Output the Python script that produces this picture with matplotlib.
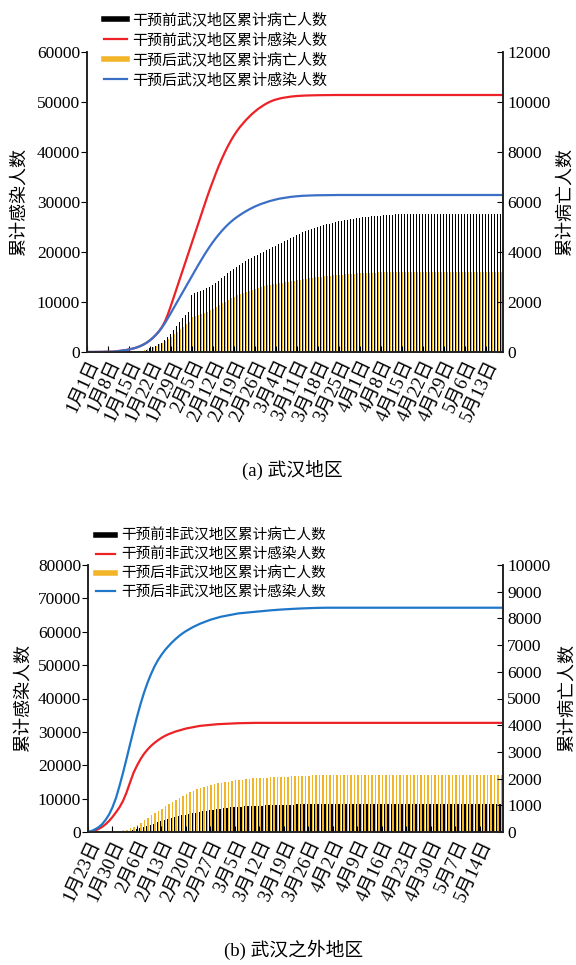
import numpy as np
import matplotlib
matplotlib.use('Agg')
import matplotlib.pyplot as plt
from matplotlib.lines import Line2D

plt.rcParams['font.family'] = ['Liberation Serif', 'Noto Sans CJK SC']

# ---------------- (a) Wuhan, daily from 1月1日 ----------------
wh_ticklabels = ['1月1日', '1月8日', '1月15日', '1月22日', '1月29日', '2月5日', '2月12日',
                 '2月19日', '2月26日', '3月4日', '3月11日', '3月18日', '3月25日', '4月1日',
                 '4月8日', '4月15日', '4月22日', '4月29日', '5月6日', '5月13日']

# cumulative infections before intervention (left axis)
wh_inf_before = [
    0, 0, 0, 0, 10, 20, 30, 40, 60, 80,
    150, 200, 280, 380, 500, 640, 800, 1000, 1250, 1550,
    1900, 2350, 2850, 3450, 4150, 5000, 6100, 7600, 9300, 11100,
    12900, 14700, 16500, 18300, 20100, 21900, 23700, 25500, 27300, 29100,
    30900, 32600, 34200, 35800, 37300, 38700, 40000, 41200, 42300, 43300,
    44200, 45000, 45700, 46400, 47000, 47600, 48100, 48600, 49000, 49400,
    49750, 50050, 50300, 50500, 50650, 50800, 50900, 51000, 51080, 51150,
    51200, 51240, 51270, 51300, 51320, 51340, 51350, 51360, 51370, 51380,
    51385, 51390, 51395, 51400, 51400, 51400, 51400, 51400, 51400, 51400,
    51400, 51400, 51400, 51400, 51400, 51400, 51400, 51400, 51400, 51400,
    51400, 51400, 51400, 51400, 51400, 51400, 51400, 51400, 51400, 51400,
    51400, 51400, 51400, 51400, 51400, 51400, 51400, 51400, 51400, 51400,
    51400, 51400, 51400, 51400, 51400, 51400, 51400, 51400, 51400, 51400,
    51400, 51400, 51400, 51400, 51400, 51400, 51400, 51400, 51400]

# cumulative infections after intervention (left axis)
wh_inf_after = [
    0, 0, 0, 0, 10, 20, 30, 40, 60, 80,
    150, 200, 280, 380, 500, 640, 800, 1000, 1250, 1550,
    1900, 2350, 2850, 3450, 4100, 4900, 5800, 6800, 7850, 8900,
    9950, 11000, 12050, 13100, 14150, 15200, 16250, 17300, 18300, 19300,
    20250, 21150, 22000, 22800, 23550, 24250, 24900, 25500, 26050, 26550,
    27000, 27400, 27800, 28150, 28500, 28800, 29100, 29350, 29600, 29800,
    30000, 30200, 30350, 30500, 30650, 30750, 30850, 30950, 31030, 31100,
    31150, 31200, 31240, 31270, 31300, 31320, 31340, 31350, 31360, 31370,
    31380, 31390, 31395, 31400, 31400, 31400, 31400, 31400, 31400, 31400,
    31400, 31400, 31400, 31400, 31400, 31400, 31400, 31400, 31400, 31400,
    31400, 31400, 31400, 31400, 31400, 31400, 31400, 31400, 31400, 31400,
    31400, 31400, 31400, 31400, 31400, 31400, 31400, 31400, 31400, 31400,
    31400, 31400, 31400, 31400, 31400, 31400, 31400, 31400, 31400, 31400,
    31400, 31400, 31400, 31400, 31400, 31400, 31400, 31400, 31400]

# cumulative deaths before intervention (right axis)
wh_dead_before = [
    0, 0, 0, 0, 0, 0, 0, 0, 0, 0,
    0, 0, 0, 0, 0, 0, 0, 20, 40, 60,
    100, 150, 200, 260, 320, 380, 480, 600, 740, 900,
    1050, 1200, 1350, 1480, 1600, 2280, 2350, 2400, 2450, 2500,
    2560, 2620, 2690, 2760, 2850, 2950, 3060, 3170, 3260, 3340,
    3420, 3500, 3570, 3640, 3710, 3780, 3840, 3900, 3960, 4020,
    4080, 4140, 4200, 4260, 4320, 4380, 4440, 4500, 4560, 4620,
    4680, 4740, 4790, 4840, 4890, 4930, 4970, 5010, 5050, 5080,
    5110, 5140, 5170, 5200, 5230, 5250, 5270, 5290, 5310, 5330,
    5350, 5370, 5390, 5410, 5420, 5430, 5440, 5450, 5460, 5470,
    5480, 5490, 5500, 5505, 5510, 5515, 5520, 5520, 5520, 5520,
    5520, 5520, 5520, 5520, 5520, 5520, 5520, 5520, 5520, 5520,
    5520, 5520, 5520, 5520, 5520, 5520, 5520, 5520, 5520, 5520,
    5520, 5520, 5520, 5520, 5520, 5520, 5520, 5520, 5520]

# cumulative deaths after intervention (right axis)
wh_dead_after = [
    0, 0, 0, 0, 0, 0, 0, 0, 0, 0,
    0, 0, 0, 0, 0, 0, 0, 30, 50, 80,
    110, 150, 200, 250, 310, 380, 450, 530, 620, 720,
    820, 920, 1020, 1120, 1220, 1400, 1440, 1480, 1520, 1570,
    1620, 1680, 1740, 1810, 1880, 1950, 2020, 2090, 2150, 2210,
    2270, 2320, 2370, 2420, 2460, 2500, 2540, 2580, 2610, 2640,
    2670, 2700, 2720, 2740, 2760, 2780, 2800, 2820, 2840, 2860,
    2880, 2900, 2920, 2940, 2955, 2970, 2985, 3000, 3015, 3030,
    3045, 3055, 3065, 3075, 3085, 3095, 3105, 3115, 3125, 3135,
    3145, 3155, 3160, 3165, 3170, 3175, 3180, 3185, 3190, 3195,
    3200, 3200, 3200, 3200, 3200, 3200, 3200, 3200, 3200, 3200,
    3200, 3200, 3200, 3200, 3200, 3200, 3200, 3200, 3200, 3200,
    3200, 3200, 3200, 3200, 3200, 3200, 3200, 3200, 3200, 3200,
    3200, 3200, 3200, 3200, 3200, 3200, 3200, 3200, 3200]

# ---------------- (b) outside Wuhan, daily from 1月23日 ----------------
ow_ticklabels = ['1月23日', '1月30日', '2月6日', '2月13日', '2月20日', '2月27日', '3月5日',
                 '3月12日', '3月19日', '3月26日', '4月2日', '4月9日', '4月16日', '4月23日',
                 '4月30日', '5月7日', '5月14日']

ow_inf_before = [
    0, 150, 400, 900, 1500, 2300, 3300, 4500, 5900, 7400,
    9300, 11800, 14800, 17700, 19900, 21800, 23400, 24700, 25800, 26700,
    27500, 28200, 28800, 29300, 29700, 30100, 30400, 30700, 31000, 31200,
    31400, 31600, 31800, 31900, 32000, 32100, 32200, 32300, 32350, 32400,
    32450, 32500, 32550, 32600, 32620, 32640, 32660, 32680, 32700, 32700,
    32700, 32700, 32700, 32700, 32700, 32700, 32700, 32700, 32700, 32700,
    32700, 32700, 32700, 32700, 32700, 32700, 32700, 32700, 32700, 32700,
    32700, 32700, 32700, 32700, 32700, 32700, 32700, 32700, 32700, 32700,
    32700, 32700, 32700, 32700, 32700, 32700, 32700, 32700, 32700, 32700,
    32700, 32700, 32700, 32700, 32700, 32700, 32700, 32700, 32700, 32700,
    32700, 32700, 32700, 32700, 32700, 32700, 32700, 32700, 32700, 32700,
    32700, 32700, 32700, 32700, 32700, 32700, 32700, 32700, 32700]

ow_inf_after = [
    0, 300, 800, 1400, 2300, 3600, 5200, 7400, 10200, 13800,
    17700, 21900, 26200, 30400, 34500, 38300, 41700, 44700, 47300, 49600,
    51500, 53100, 54500, 55700, 56800, 57800, 58700, 59500, 60200, 60800,
    61400, 61900, 62400, 62800, 63200, 63600, 63900, 64200, 64500, 64700,
    64900, 65100, 65300, 65500, 65600, 65700, 65800, 65900, 66000, 66100,
    66200, 66300, 66400, 66480, 66560, 66640, 66700, 66760, 66820, 66880,
    66930, 66980, 67020, 67060, 67100, 67130, 67160, 67180, 67200, 67200,
    67200, 67200, 67200, 67200, 67200, 67200, 67200, 67200, 67200, 67200,
    67200, 67200, 67200, 67200, 67200, 67200, 67200, 67200, 67200, 67200,
    67200, 67200, 67200, 67200, 67200, 67200, 67200, 67200, 67200, 67200,
    67200, 67200, 67200, 67200, 67200, 67200, 67200, 67200, 67200, 67200,
    67200, 67200, 67200, 67200, 67200, 67200, 67200, 67200, 67200]

ow_dead_before = [
    0, 0, 0, 0, 0, 0, 0, 0, 0, 10,
    20, 35, 55, 80, 110, 145, 185, 225, 270, 315,
    360, 405, 445, 485, 525, 560, 595, 625, 655, 680,
    705, 730, 755, 780, 800, 820, 840, 860, 875, 890,
    905, 920, 935, 948, 955, 962, 969, 975, 980, 985,
    990, 994, 998, 1002, 1006, 1010, 1014, 1018, 1022, 1026,
    1030, 1033, 1036, 1038, 1040, 1040, 1040, 1040, 1040, 1040,
    1040, 1040, 1040, 1040, 1040, 1040, 1040, 1040, 1040, 1040,
    1040, 1040, 1040, 1040, 1040, 1040, 1040, 1040, 1040, 1040,
    1040, 1040, 1040, 1040, 1040, 1040, 1040, 1040, 1040, 1040,
    1040, 1040, 1040, 1040, 1040, 1040, 1040, 1040, 1040, 1040,
    1040, 1040, 1040, 1040, 1040, 1040, 1040, 1040, 1040]

ow_dead_after = [
    0, 0, 0, 0, 0, 0, 0, 0, 15, 30,
    60, 90, 140, 200, 270, 350, 440, 530, 620, 710,
    800, 880, 960, 1040, 1120, 1200, 1280, 1350, 1420, 1480,
    1540, 1600, 1650, 1690, 1730, 1760, 1790, 1820, 1845, 1870,
    1890, 1910, 1930, 1950, 1965, 1980, 1995, 2005, 2015, 2025,
    2035, 2040, 2045, 2050, 2055, 2060, 2065, 2070, 2080, 2090,
    2100, 2105, 2110, 2115, 2120, 2125, 2130, 2135, 2135, 2135,
    2135, 2135, 2135, 2135, 2135, 2135, 2135, 2135, 2135, 2135,
    2135, 2135, 2135, 2135, 2135, 2135, 2135, 2135, 2135, 2135,
    2135, 2135, 2135, 2135, 2135, 2135, 2135, 2135, 2135, 2135,
    2135, 2135, 2135, 2135, 2135, 2135, 2135, 2135, 2135, 2135,
    2135, 2135, 2135, 2135, 2135, 2135, 2135, 2135, 2135]

labels_a = ['干预前武汉地区累计病亡人数', '干预前武汉地区累计感染人数',
            '干预后武汉地区累计病亡人数', '干预后武汉地区累计感染人数']
labels_b = ['干预前非武汉地区累计病亡人数', '干预前非武汉地区累计感染人数',
            '干预后非武汉地区累计病亡人数', '干预后非武汉地区累计感染人数']

RED = '#ec2227'
BLUE_A = '#3b6fc6'
BLUE_B = '#1f77c9'
GOLD = '#f2b52a'

W, H = 576, 965
fig = plt.figure(figsize=(W / 100, H / 100), dpi=100)


def panel(rect, inf_before, inf_after, dead_before, dead_after, ticklabels,
          ymax_l, step_l, ymax_r, step_r, xmax, blue, black_first, label_x):
    ax = fig.add_axes(rect)
    axr = ax.twinx()
    ax.set_zorder(axr.get_zorder() + 1)
    ax.patch.set_visible(False)

    days_d = np.arange(len(dead_before))
    days_a = np.arange(len(dead_after))
    bw = 0.42
    if black_first:
        axr.bar(days_d - bw / 2, dead_before, bw, color='black', linewidth=0)
        axr.bar(days_a + bw / 2, dead_after, bw, color=GOLD, linewidth=0)
    else:
        axr.bar(days_a + bw / 2, dead_after, bw, color=GOLD, linewidth=0)
        axr.bar(days_d - bw / 2, dead_before, bw, color='black', linewidth=0)

    ax.plot(np.arange(len(inf_before)), inf_before, color=RED, lw=1.6)
    ax.plot(np.arange(len(inf_after)), inf_after, color=blue, lw=1.6)

    ax.set_xlim(0, xmax)
    ax.set_ylim(0, ymax_l)
    axr.set_ylim(0, ymax_r)
    ax.set_yticks(np.arange(0, ymax_l + 1, step_l))
    axr.set_yticks(np.arange(0, ymax_r + 1, step_r))
    ax.set_xticks(np.arange(len(ticklabels)) * 7)
    ax.set_xticklabels(ticklabels, rotation=65, ha='right', rotation_mode='anchor')

    for a in (ax, axr):
        a.spines['top'].set_visible(False)
        for s in ('left', 'right', 'bottom'):
            a.spines[s].set_linewidth(1.2)
            a.spines[s].set_color('#222222')
    ax.tick_params(axis='y', direction='out', length=4, labelsize=12.5, pad=1)
    axr.tick_params(axis='y', direction='in', length=4, labelsize=12.5, pad=3)
    ax.tick_params(axis='x', direction='in', length=4, labelsize=13.5, pad=4)

    ax.set_ylabel('累计感染人数', fontsize=13)
    axr.set_ylabel('累计病亡人数', fontsize=13)
    ax.yaxis.set_label_coords(label_x[0], 0.5)
    axr.yaxis.set_label_coords(label_x[1], 0.5)
    return ax


panel([87 / W, 1 - 352 / H, 416 / W, 300 / H],
      wh_inf_before, wh_inf_after, wh_dead_before, wh_dead_after, wh_ticklabels,
      60000, 10000, 12000, 2000, 138.7, BLUE_A, True, (-0.142, 1.13))

panel([88 / W, 1 - 832 / H, 415 / W, 267 / H],
      ow_inf_before, ow_inf_after, ow_dead_before, ow_dead_after, ow_ticklabels,
      80000, 10000, 10000, 1000, 118.6, BLUE_B, False, (-0.135, 1.135))


def handles(blue):
    return [Line2D([0], [0], color='black', lw=4),
            Line2D([0], [0], color=RED, lw=1.6),
            Line2D([0], [0], color=GOLD, lw=4),
            Line2D([0], [0], color=blue, lw=1.6)]


fig.legend(handles(BLUE_A), labels_a, loc='upper left', bbox_to_anchor=(104 / W, 1 - 13 / H),
           frameon=False, fontsize=10.8, handlelength=1.5, handletextpad=0.4,
           labelspacing=0.36, borderpad=0, borderaxespad=0)
fig.legend(handles(BLUE_B), labels_b, loc='upper left', bbox_to_anchor=(96 / W, 1 - 529 / H),
           frameon=False, fontsize=10.5, handlelength=1.3, handletextpad=0.4,
           labelspacing=0.33, borderpad=0, borderaxespad=0)

fig.text(292 / W, 1 - 470 / H, '(a) 武汉地区', ha='center', va='center', fontsize=13.5)
fig.text(294 / W, 1 - 950 / H, '(b) 武汉之外地区', ha='center', va='center', fontsize=13.5)

fig.savefig('out.png', dpi=100)
